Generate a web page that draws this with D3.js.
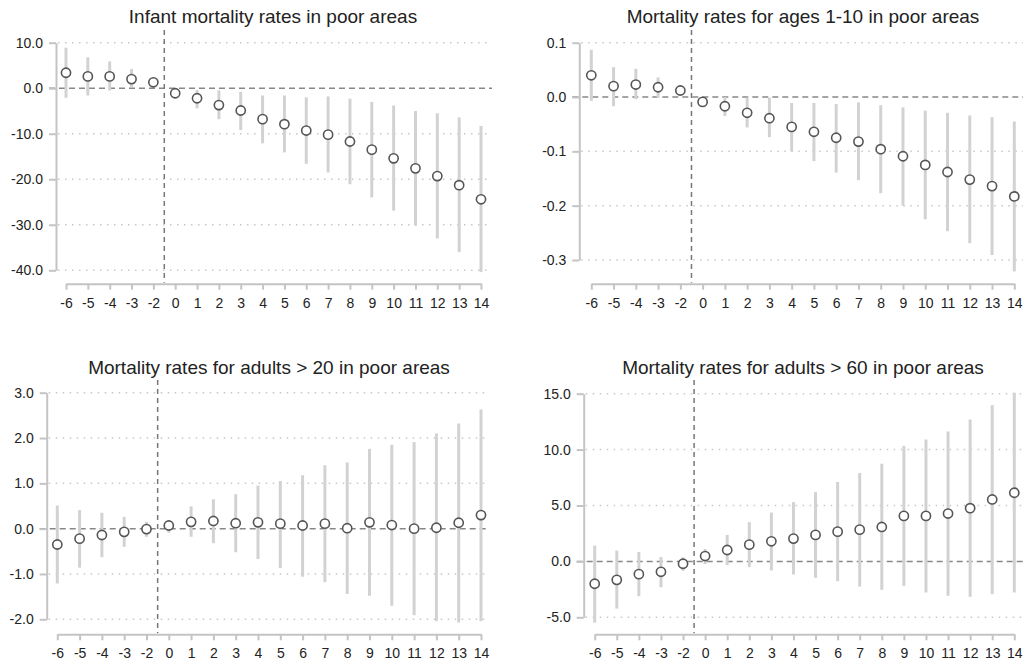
<!DOCTYPE html>
<html>
<head>
<meta charset="utf-8">
<script src="https://cdn.jsdelivr.net/npm/d3@7"></script>
<style>
  html, body { margin: 0; padding: 0; background: #fff; }
  svg { display: block; font-family: "Liberation Sans", Arial, sans-serif; }
</style>
</head>
<body>
<svg id="chart" width="1032" height="667"></svg>
<script>
// Event-time periods (period -1 is the omitted reference year)
const periods = ["-6", "-5", "-4", "-3", "-2", "0", "1", "2", "3", "4", "5", "6", "7", "8", "9", "10", "11", "12", "13", "14"];

// Infant mortality
const infantEst = [3.4, 2.6, 2.6, 2.0, 1.3, -1.1, -2.2, -3.7, -4.9, -6.8, -7.9, -9.3, -10.2, -11.7, -13.5, -15.4, -17.6, -19.3, -21.3, -24.4];
const infantLo  = [-2.1, -1.6, -0.5, 0.2, 0.4, -2.0, -4.4, -6.8, -9.2, -12.1, -14.1, -16.6, -18.5, -21.1, -24.0, -26.9, -30.2, -33.0, -36.0, -40.4];
const infantHi  = [8.9, 6.8, 5.9, 4.2, 2.3, -0.2, -0.4, -0.5, -0.8, -1.6, -1.6, -2.0, -1.8, -2.3, -3.0, -3.8, -5.0, -5.5, -6.4, -8.3];
const infantTicks = [10, 0, -10, -20, -30, -40];

// Ages 1-10
const childEst = [0.040, 0.020, 0.023, 0.018, 0.012, -0.009, -0.017, -0.029, -0.039, -0.055, -0.064, -0.075, -0.082, -0.096, -0.109, -0.125, -0.138, -0.152, -0.164, -0.183];
const childLo  = [-0.007, -0.017, -0.004, -0.001, 0.003, -0.017, -0.035, -0.056, -0.074, -0.100, -0.118, -0.139, -0.153, -0.177, -0.200, -0.225, -0.247, -0.269, -0.291, -0.321];
const childHi  = [0.087, 0.055, 0.052, 0.036, 0.020, -0.001, 0.000, -0.001, -0.001, -0.011, -0.011, -0.013, -0.010, -0.015, -0.019, -0.025, -0.029, -0.034, -0.037, -0.045];
const childTicks = [0.1, 0, -0.1, -0.2, -0.3];

// Adults > 20
const adult20Est = [-0.35, -0.22, -0.14, -0.07, -0.01, 0.07, 0.15, 0.17, 0.12, 0.14, 0.11, 0.07, 0.11, 0.01, 0.14, 0.08, 0.00, 0.02, 0.13, 0.30];
const adult20Lo  = [-1.21, -0.86, -0.63, -0.40, -0.18, -0.09, -0.18, -0.32, -0.52, -0.67, -0.87, -1.06, -1.18, -1.44, -1.48, -1.70, -1.91, -2.04, -2.07, -2.04];
const adult20Hi  = [0.51, 0.41, 0.35, 0.26, 0.15, 0.15, 0.49, 0.65, 0.76, 0.95, 1.05, 1.18, 1.40, 1.46, 1.76, 1.85, 1.91, 2.10, 2.32, 2.63];
const adult20Ticks = [3, 2, 1, 0, -1, -2];

// Adults > 60
const adult60Est = [-2.0, -1.65, -1.14, -0.93, -0.21, 0.48, 1.02, 1.50, 1.80, 2.04, 2.37, 2.66, 2.84, 3.08, 4.07, 4.07, 4.28, 4.76, 5.54, 6.14];
const adult60Lo  = [-5.48, -4.22, -3.11, -2.31, -0.84, -0.24, -0.33, -0.51, -0.81, -1.17, -1.47, -1.77, -2.25, -2.54, -2.19, -2.78, -3.08, -3.17, -2.93, -2.78];
const adult60Hi  = [1.41, 0.96, 0.84, 0.39, 0.36, 1.10, 2.37, 3.50, 4.37, 5.30, 6.20, 7.10, 7.90, 8.74, 10.33, 10.90, 11.62, 12.69, 13.98, 15.09];
const adult60Ticks = [15, 10, 5, 0, -5];

const titles = [
  "Infant mortality rates in poor areas",
  "Mortality rates for ages 1-10 in poor areas",
  "Mortality rates for adults > 20 in poor areas",
  "Mortality rates for adults > 60 in poor areas"
];

const svg = d3.select("#chart");

// Layout of each small multiple
const panels = [
  { title: titles[0], est: infantEst, lo: infantLo, hi: infantHi, ticks: infantTicks,
    axisX: 56, yTop: 42.7, yBot: 270.3, xAxisY: 283.7, xFirst: 66, xLast: 481, gridRight: 492, vTop: 30, titleX: 273, titleY: 23 },
  { title: titles[1], est: childEst, lo: childLo, hi: childHi, ticks: childTicks,
    axisX: 579.3, yTop: 42.7, yBot: 260, xAxisY: 283.7, xFirst: 591.3, xLast: 1014.3, gridRight: 1023, vTop: 30, titleX: 803, titleY: 23 },
  { title: titles[2], est: adult20Est, lo: adult20Lo, hi: adult20Hi, ticks: adult20Ticks,
    axisX: 46.7, yTop: 392.7, yBot: 619.3, xAxisY: 634.3, xFirst: 57.3, xLast: 481, gridRight: 488, vTop: 380, titleX: 269, titleY: 374 },
  { title: titles[3], est: adult60Est, lo: adult60Lo, hi: adult60Hi, ticks: adult60Ticks,
    axisX: 583.7, yTop: 393.7, yBot: 617.3, xAxisY: 634.3, xFirst: 594.7, xLast: 1014.3, gridRight: 1026, vTop: 380, titleX: 803, titleY: 374 }
];

// one decimal, plain hyphen for negatives
const fmt = d => (+d).toFixed(1);

panels.forEach(p => {
  const g = svg.append("g");
  const tMax = d3.max(p.ticks), tMin = d3.min(p.ticks);

  const x = d3.scalePoint().domain(periods).range([p.xFirst, p.xLast]);
  const y = d3.scaleLinear().domain([tMin, tMax]).range([p.yBot, p.yTop]);

  // dotted horizontal grid
  g.append("g").selectAll("line")
    .data(p.ticks.filter(t => t !== 0))
    .join("line")
    .attr("x1", p.axisX + 2).attr("x2", p.gridRight)
    .attr("y1", d => y(d)).attr("y2", d => y(d))
    .attr("stroke", "#c8c8c8").attr("stroke-width", 1.5)
    .attr("stroke-dasharray", "1.5,5.5");

  // zero reference line
  g.append("line")
    .attr("x1", p.axisX - 7).attr("x2", p.gridRight)
    .attr("y1", y(0)).attr("y2", y(0))
    .attr("stroke", "#888").attr("stroke-width", 1.5)
    .attr("stroke-dasharray", "6,4");

  // treatment onset between periods -2 and 0
  const vx = (x("-2") + x("0")) / 2;
  g.append("line")
    .attr("x1", vx).attr("x2", vx)
    .attr("y1", p.vTop).attr("y2", p.xAxisY - 1)
    .attr("stroke", "#777").attr("stroke-width", 1.5)
    .attr("stroke-dasharray", "5,4");

  const rows = periods.map((k, i) => ({ k, est: p.est[i], lo: p.lo[i], hi: p.hi[i] }));

  // confidence intervals
  g.append("g").selectAll("line")
    .data(rows)
    .join("line")
    .attr("x1", d => x(d.k)).attr("x2", d => x(d.k))
    .attr("y1", d => y(d.lo)).attr("y2", d => y(d.hi))
    .attr("stroke", "#d2d2d2").attr("stroke-width", 3);

  // point estimates
  g.append("g").selectAll("circle")
    .data(rows)
    .join("circle")
    .attr("cx", d => x(d.k)).attr("cy", d => y(d.est))
    .attr("r", 4.6)
    .attr("fill", "#fff").attr("stroke", "#555").attr("stroke-width", 1.6);

  // y axis
  const yAxis = g.append("g")
    .attr("transform", `translate(${p.axisX},0)`)
    .call(d3.axisLeft(y).tickValues(p.ticks).tickFormat(fmt).tickSize(7).tickSizeOuter(0).tickPadding(6));
  yAxis.select(".domain").attr("stroke", "#c4c4c4").attr("stroke-width", 2);
  yAxis.selectAll(".tick line").attr("stroke", "#c4c4c4").attr("stroke-width", 2);
  yAxis.selectAll(".tick text").attr("fill", "#222").style("font-size", "14px");

  // x axis
  const xAxis = g.append("g")
    .attr("transform", `translate(0,${p.xAxisY})`)
    .call(d3.axisBottom(x).tickSize(6).tickSizeOuter(0).tickPadding(8));
  xAxis.select(".domain").attr("stroke", "#c4c4c4").attr("stroke-width", 2);
  xAxis.selectAll(".tick line").attr("stroke", "#c4c4c4").attr("stroke-width", 2);
  xAxis.selectAll(".tick text").attr("fill", "#222").style("font-size", "14px");

  // panel title
  g.append("text")
    .attr("x", p.titleX).attr("y", p.titleY)
    .attr("text-anchor", "middle")
    .attr("fill", "#222")
    .style("font-size", "19px")
    .text(p.title);
});
</script>
</body>
</html>
